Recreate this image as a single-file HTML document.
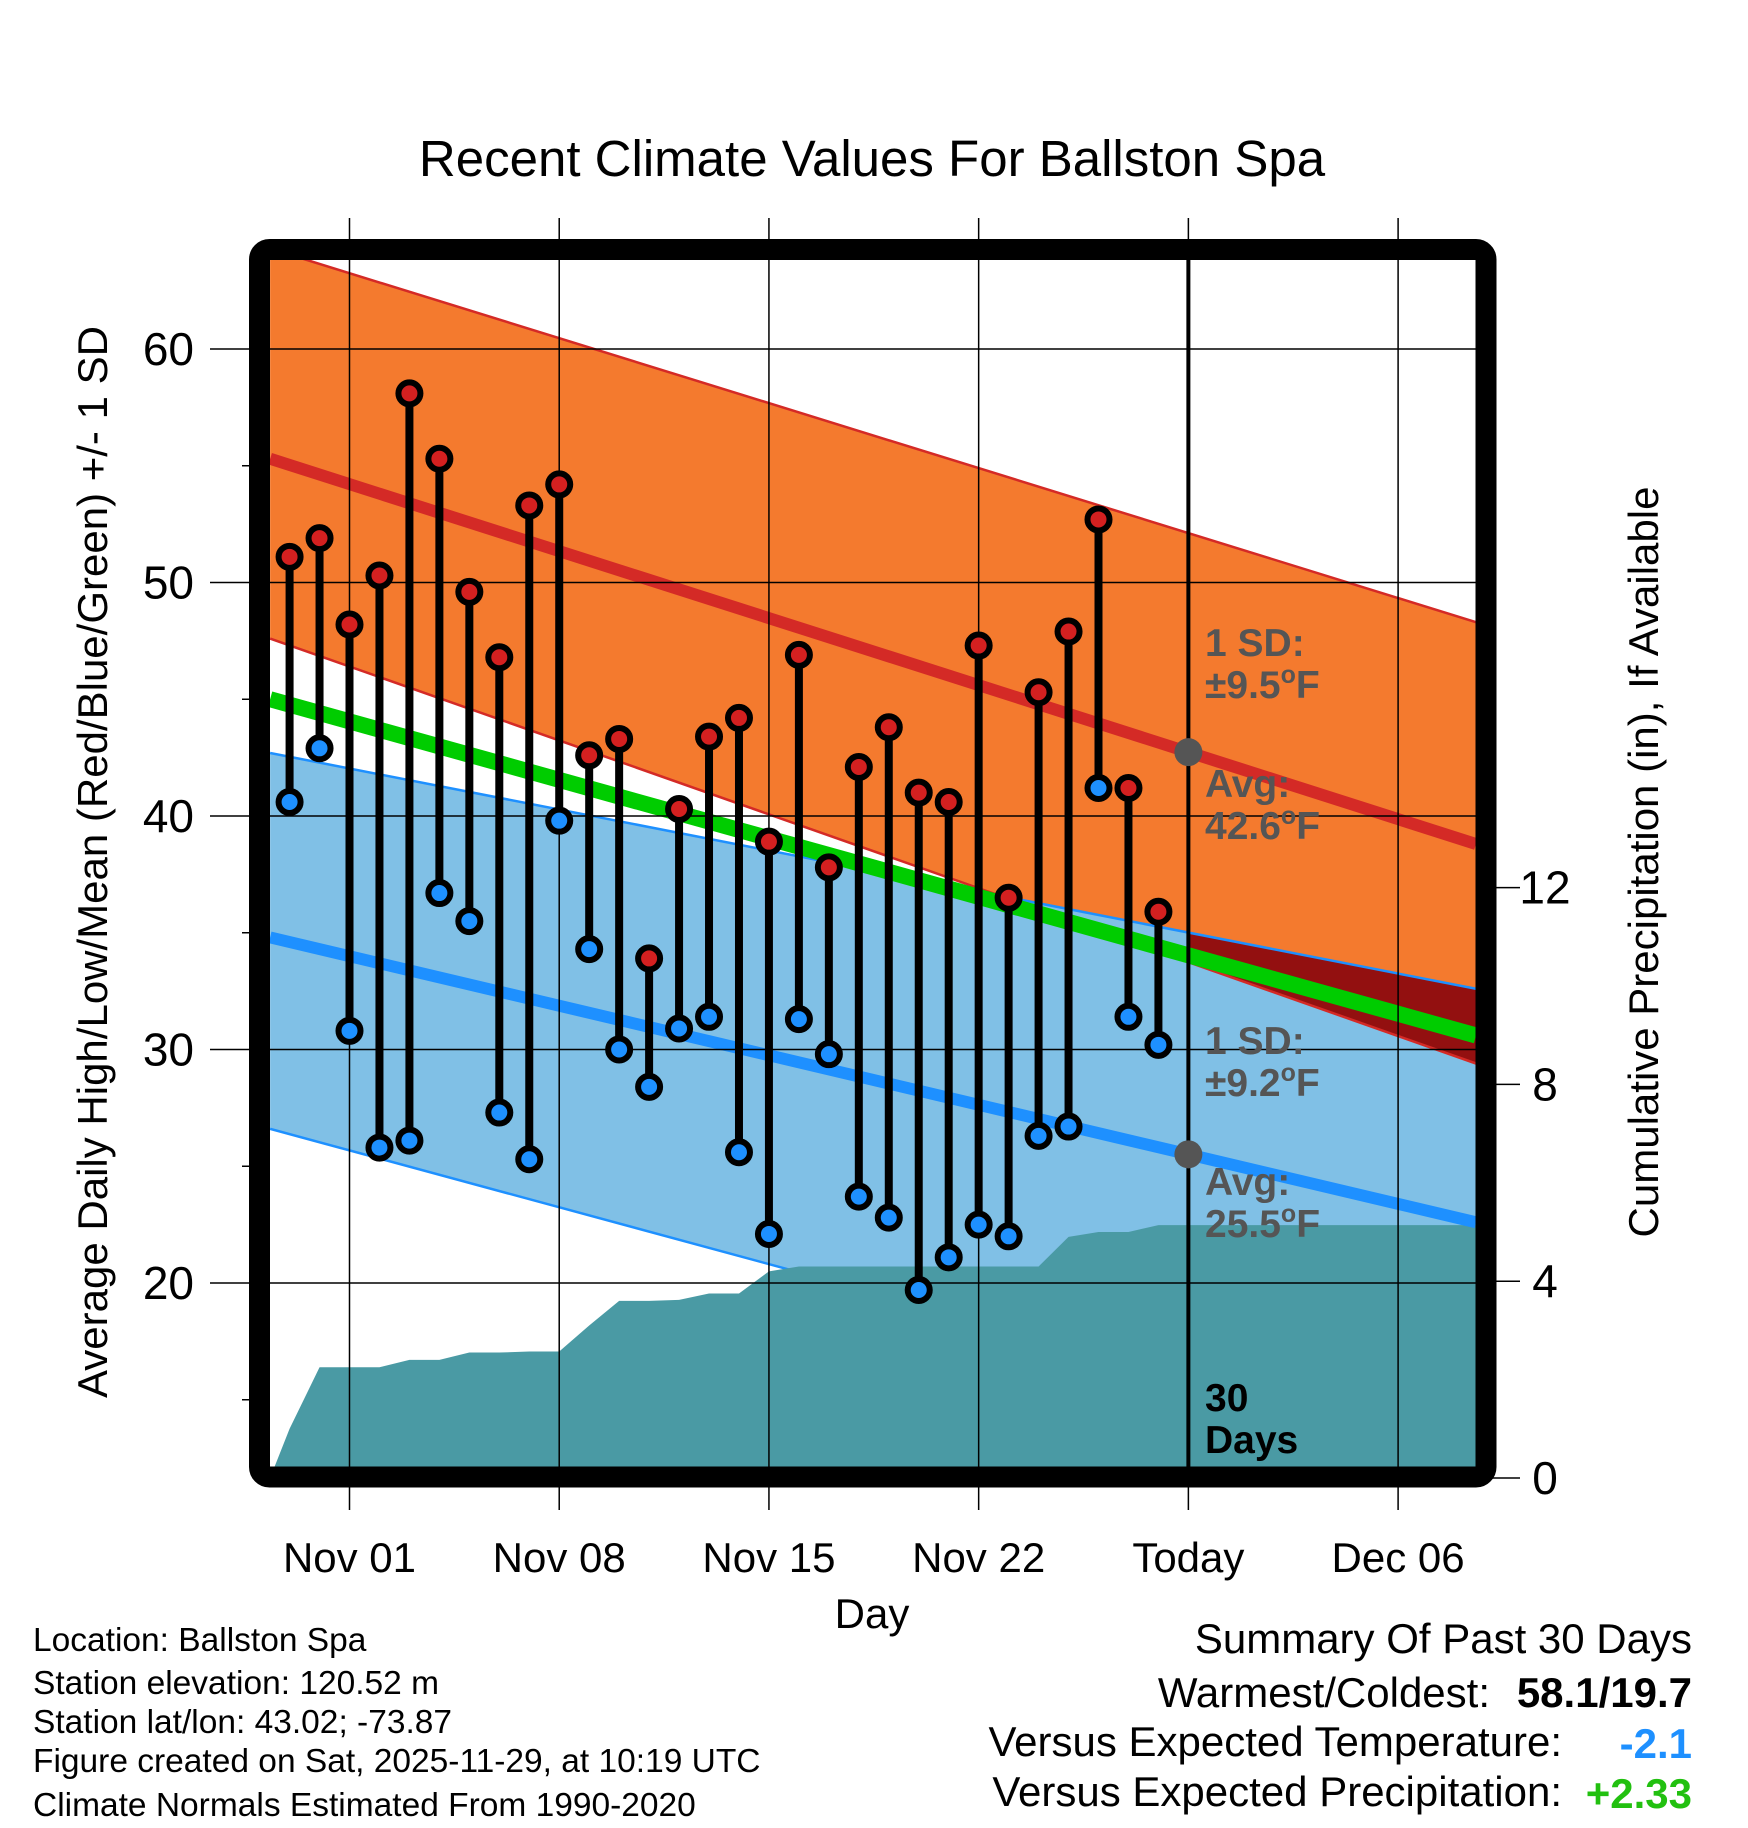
<!DOCTYPE html>
<html><head><meta charset="utf-8"><style>
html,body{margin:0;padding:0;background:#fff;}
svg{display:block;font-family:"Liberation Sans",sans-serif;}
</style></head><body>
<svg id="chart" width="1748" height="1828" viewBox="0 0 1748 1828" xmlns="http://www.w3.org/2000/svg">
<defs><clipPath id="plotclip"><rect x="270" y="260" width="1206" height="1207"/></clipPath></defs>
<text x="872" y="176" font-size="51" text-anchor="middle">Recent Climate Values For Ballston Spa</text>
<g id="plot" clip-path="url(#plotclip)"></g>
<g id="over"></g>
<text transform="translate(107,862) rotate(-90)" font-size="42" text-anchor="middle">Average Daily High/Low/Mean (Red/Blue/Green) +/- 1 SD</text>
<text transform="translate(1658,862) rotate(-90)" font-size="42" text-anchor="middle">Cumulative Precipitation (in), If Available</text>
<text x="872" y="1628" font-size="42" text-anchor="middle">Day</text>
<g font-size="33.5">
<text x="33" y="1651">Location: Ballston Spa</text>
<text x="33" y="1694">Station elevation: 120.52 m</text>
<text x="33" y="1733">Station lat/lon: 43.02; -73.87</text>
<text x="33" y="1772">Figure created on Sat, 2025-11-29, at 10:19 UTC</text>
<text x="33" y="1816">Climate Normals Estimated From 1990-2020</text>
</g>
<g font-size="42">
<text x="1692" y="1653" text-anchor="end">Summary Of Past 30 Days</text>
<text x="1490" y="1707" text-anchor="end">Warmest/Coldest:</text>
<text x="1692" y="1707" text-anchor="end" font-weight="bold">58.1/19.7</text>
<text x="1562" y="1756" text-anchor="end">Versus Expected Temperature:</text>
<text x="1692" y="1758" text-anchor="end" font-weight="bold" fill="#1e90ff">-2.1</text>
<text x="1562" y="1806" text-anchor="end">Versus Expected Precipitation:</text>
<text x="1692" y="1808" text-anchor="end" font-weight="bold" fill="#22c010">+2.33</text>
</g>
</svg>
<script>
// Data (days relative to Nov 01 = 0)
const days = [-2,-1,0,1,2,3,4,5,6,7,8,9,10,11,12,13,14,15,16,17,18,19,20,21,22,23,24,25,26,27];
const highs = [51.1,51.9,48.2,50.3,58.1,55.3,49.6,46.8,53.3,54.2,42.6,43.3,33.9,40.3,43.4,44.2,38.9,46.9,37.8,42.1,43.8,41.0,40.6,47.3,36.5,45.3,47.9,52.7,41.2,35.9];
const lows = [40.6,42.9,30.8,25.8,26.1,36.7,35.5,27.3,25.3,39.8,34.3,30.0,28.4,30.9,31.4,25.6,22.1,31.3,29.8,23.7,22.8,19.7,21.1,22.5,22.0,26.3,26.7,41.2,31.4,30.2];
const precip = [1.0,2.25,2.25,2.25,2.4,2.4,2.55,2.55,2.57,2.57,3.1,3.6,3.6,3.62,3.75,3.75,4.2,4.3,4.3,4.3,4.3,4.3,4.3,4.3,4.3,4.3,4.9,5.0,5.0,5.14];
const normDays = [-2.65, 37.6];
const normHigh = [55.3, 38.8];
const normHighUpper = [64.3, 48.3];
const normHighLower = [47.6, 29.4];
const normLow = [34.8, 22.6];
const normLowUpper = [42.7, 32.6];
const normLowLower = [26.6, 12.6];
const normMean = [45.0, 30.6];
const todayDay = 28;
const xTickDays = [0,7,14,21,28,35];
const xTickLabels = ["Nov 01","Nov 08","Nov 15","Nov 22","Today","Dec 06"];
const yTicks = [20,30,40,50,60];
const y2Ticks = [0,4,8,12];

const X = d => 349.5 + d*29.96;
const Y = t => 349 + (60 - t)*23.35;
const P = p => 1478 - p*49.2;
const NS = "http://www.w3.org/2000/svg";
function mk(tag, attrs, parent){const e=document.createElementNS(NS,tag);for(const k in attrs)e.setAttribute(k,attrs[k]);parent.appendChild(e);return e;}
const plot=document.getElementById('plot'), over=document.getElementById('over');
const L=270,R=1476,T=260,B=1467;
const x0=X(normDays[0]), x1=X(normDays[1]);
const hu=normHighUpper, hl=normHighLower, lu=normLowUpper, ll=normLowLower;
const lerp=(arr,d)=>arr[0]+(arr[1]-arr[0])*(d-normDays[0])/(normDays[1]-normDays[0]);

let e;
e=mk('polygon',{points:`${x0},${Y(hu[0])} ${x1},${Y(hu[1])} ${x1},${Y(hl[1])} ${x0},${Y(hl[0])}`,fill:'#f47a2e'},plot);

e=mk('polygon',{points:`${x0},${Y(lu[0])} ${x1},${Y(lu[1])} ${x1},${Y(ll[1])} ${x0},${Y(ll[0])}`,fill:'#80c0e6'},plot);

const xt=X(todayDay);
e=mk('polygon',{points:`${xt},${Y(lerp(lu,todayDay))} ${x1},${Y(lu[1])} ${x1},${Y(hl[1])} ${xt},${Y(lerp(hl,todayDay))}`,fill:'#931010'},plot);

[[hu,'#d42a26'],[hl,'#d42a26'],[lu,'#1e90ff'],[ll,'#1e90ff']].forEach(([a,c])=>{
 e=mk('line',{x1:x0,y1:Y(a[0]),x2:x1,y2:Y(a[1]),stroke:c,'stroke-width':2.5},plot);
 
});
let pts=`${x0},${P(0)} `;
days.forEach((d,i)=>{pts+=`${X(d)},${P(precip[i])} `;});
pts+=`${x1},${P(precip[precip.length-1])} ${x1},${B+20} ${x0},${B+20}`;
e=mk('polygon',{points:pts,fill:'#4a9aa4'},plot);

e=mk('line',{x1:x0,y1:Y(normMean[0]),x2:x1,y2:Y(normMean[1]),stroke:'#00cc00','stroke-width':16},plot);

e=mk('line',{x1:x0,y1:Y(normHigh[0]),x2:x1,y2:Y(normHigh[1]),stroke:'#d42a26','stroke-width':12},plot);

e=mk('line',{x1:x0,y1:Y(normLow[0]),x2:x1,y2:Y(normLow[1]),stroke:'#1e90ff','stroke-width':12},plot);

xTickDays.forEach((d,i)=>{
 e=mk('line',{x1:X(d),y1:218,x2:X(d),y2:1510,stroke:'#000','stroke-width':1.5},over);
 
 e=mk('text',{x:X(d),y:1572,'font-size':42,'text-anchor':'middle'},over);e.textContent=xTickLabels[i];
 
});
yTicks.forEach(t=>{
 e=mk('line',{x1:210,y1:Y(t),x2:R,y2:Y(t),stroke:'#000','stroke-width':1.5},over);
 
 e=mk('text',{x:194,y:Y(t)+16,'font-size':46,'text-anchor':'end'},over);e.textContent=t;
 
});
[15,25,35,45,55].forEach(t=>{
 e=mk('line',{x1:242,y1:Y(t),x2:252,y2:Y(t),stroke:'#000','stroke-width':1.5},over);
 
});
y2Ticks.forEach(p=>{
 e=mk('line',{x1:1490,y1:P(p),x2:1520,y2:P(p),stroke:'#000','stroke-width':1.5},over);
 
 e=mk('text',{x:1545,y:P(p)+16,'font-size':46,'text-anchor':'middle'},over);e.textContent=p;
 
});
e=mk('line',{x1:xt,y1:T,x2:xt,y2:B,stroke:'#000','stroke-width':4},over);

days.forEach((d,i)=>{
 e=mk('line',{x1:X(d),y1:Y(highs[i]),x2:X(d),y2:Y(lows[i]),stroke:'#000','stroke-width':8},over);
 
});
days.forEach((d,i)=>{
 e=mk('circle',{cx:X(d),cy:Y(highs[i]),r:11,fill:'#d42020',stroke:'#000','stroke-width':6},over);
 
 e=mk('circle',{cx:X(d),cy:Y(lows[i]),r:11,fill:'#1e90ff',stroke:'#000','stroke-width':6},over);
 
});
e=mk('circle',{cx:xt,cy:Y(lerp(normHigh,todayDay)),r:14,fill:'#555'},over);

e=mk('circle',{cx:xt,cy:Y(lerp(normLow,todayDay)),r:14,fill:'#555'},over);

function label(lines,y,name,color){
 const t=mk('text',{x:1205,y:y,'font-size':39,'font-weight':'bold',fill:color},over);
 
 lines.forEach((s,k)=>{const ts=mk('tspan',{x:1205,dy:k?42:0},t);ts.innerHTML=s;});
}
label(['1 SD:','±9.5<tspan dy="-15" font-size="25">o</tspan><tspan dy="15">F</tspan>'],656,'high-sd-label','#555');
label(['Avg:','42.6<tspan dy="-15" font-size="25">o</tspan><tspan dy="15">F</tspan>'],797,'high-avg-label','#555');
label(['1 SD:','±9.2<tspan dy="-15" font-size="25">o</tspan><tspan dy="15">F</tspan>'],1054,'low-sd-label','#555');
label(['Avg:','25.5<tspan dy="-15" font-size="25">o</tspan><tspan dy="15">F</tspan>'],1195,'low-avg-label','#555');
label(['30','Days'],1411,'period-label','#000');
e=mk('rect',{x:259.5,y:249.5,width:1226.5,height:1227.5,rx:10,fill:'none',stroke:'#000','stroke-width':21},over);

</script>
</body></html>
